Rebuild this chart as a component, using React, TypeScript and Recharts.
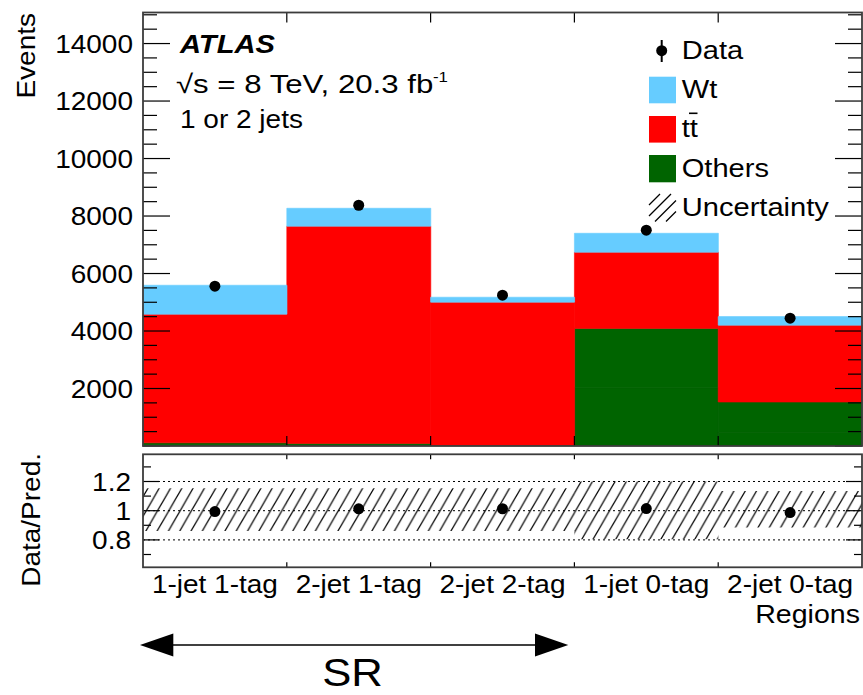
import React from 'react';
import { ComposedChart, Bar, Line, XAxis, YAxis, ReferenceLine } from 'recharts';

// ---- data ----
const regions = ['1-jet 1-tag', '2-jet 1-tag', '2-jet 2-tag', '1-jet 0-tag', '2-jet 0-tag'];
const othersLow = [60, 50, 10, 2030, 470];
const othersHigh = [50, 40, 10, 2060, 1060];
const ttbar = [4474, 7555, 4983, 2650, 2672];
const wt = [1009, 625, 173, 660, 300];
const dataEvents = [5560, 8375, 5245, 7506, 4445];
const uncUp = [1.153, 1.153, 1.153, 1.2, 1.135];
const uncDown = [0.861, 0.861, 0.861, 0.805, 0.885];

const mainTicks = Array.from({ length: 31 }, (_, i) => i * 500);
const ratioTicks = [0.7, 0.8, 0.9, 1.0, 1.1, 1.2, 1.3];

// ---- layout ----
const W = 863;
const H = 695;
const PL = 143;
const PR = 862;
const MT = 12.5;
const MB = 446;
const RT = 454.3;
const RB = 567.3;
const BW = (PR - PL) / regions.length;
const SX = 1.12; // ROOT helvetica runs wider than Liberation Sans
const FONT = '"Liberation Sans", Arial, Helvetica, sans-serif';

const rows = regions.map((r, i) => {
  const total = othersLow[i] + othersHigh[i] + ttbar[i] + wt[i];
  return {
    region: r,
    othersLow: othersLow[i],
    othersHigh: othersHigh[i],
    ttbar: ttbar[i],
    wt: wt[i],
    data: dataEvents[i],
    ratio: dataEvents[i] / total,
    lo: uncDown[i],
    hi: uncUp[i],
  };
});

function SText({ x, y, size = 25, anchor = 'start', rotate = 0, weight = 'normal', italic = false, sx = SX, children }: any) {
  return (
    <g transform={`translate(${x},${y}) rotate(${rotate}) scale(${sx},1)`}>
      <text x={0} y={0} fontSize={size} fontFamily={FONT} textAnchor={anchor}
        fontWeight={weight} fontStyle={italic ? 'italic' : 'normal'} fill="#000">
        {children}
      </text>
    </g>
  );
}

const MainYTick = (props: any) => {
  const { y, payload } = props;
  const v = payload.value;
  const major = v % 2000 === 0;
  const len = major ? 27 : 14;
  return (
    <g>
      <line x1={PL} x2={PL + len} y1={y} y2={y} stroke="#000" strokeWidth={1.2} />
      <line x1={PR} x2={PR - len} y1={y} y2={y} stroke="#000" strokeWidth={1.2} />
      {major && v > 0 && <SText x={133} y={y + 9} anchor="end">{v}</SText>}
    </g>
  );
};

const MainXTick = (props: any) => {
  const { x, index } = props;
  if (index >= regions.length - 1) return <g />;
  const bx = x + BW / 2;
  return (
    <g>
      <line x1={bx} x2={bx} y1={MB} y2={MB - 10} stroke="#000" strokeWidth={1.2} />
      <line x1={bx} x2={bx} y1={MT} y2={MT + 10} stroke="#000" strokeWidth={1.2} />
    </g>
  );
};

const RatioYTick = (props: any) => {
  const { y, payload } = props;
  const v = payload.value;
  const major = Math.round(v * 10) % 2 === 0;
  const len = major ? 16 : 8;
  const label = Math.abs(v - 1) < 1e-6 ? '1' : String(v);
  return (
    <g>
      <line x1={PL} x2={PL + len} y1={y} y2={y} stroke="#000" strokeWidth={1.2} />
      <line x1={PR} x2={PR - len} y1={y} y2={y} stroke="#000" strokeWidth={1.2} />
      {major && <SText x={131} y={y + 9.5} anchor="end">{label}</SText>}
    </g>
  );
};

const RatioXTick = (props: any) => {
  const { x, index, payload } = props;
  const bx = x + BW / 2;
  return (
    <g>
      <SText x={x} y={593} anchor="middle">{payload.value}</SText>
      {index < regions.length - 1 && (
        <>
          <line x1={bx} x2={bx} y1={RB} y2={RB - 5} stroke="#000" strokeWidth={1.2} />
          <line x1={bx} x2={bx} y1={RT} y2={RT + 5} stroke="#000" strokeWidth={1.2} />
        </>
      )}
    </g>
  );
};

const dot = { r: 5.5, fill: '#000', stroke: '#000', strokeWidth: 0 };

export default function App() {
  const box = { position: 'absolute' as const, left: 0, top: 0 };
  return (
    <div style={{ position: 'absolute', left: 0, top: 0, width: W, height: H, background: '#fff' }}>
      <div style={box}>
        <ComposedChart width={W} height={H} data={rows} barCategoryGap={0} barGap={0}
          margin={{ top: MT, right: W - PR, bottom: H - MB - 1, left: PL - 1 }}>
          <XAxis dataKey="region" height={1} interval={0} axisLine={false} tickLine={false} tick={MainXTick} />
          <YAxis width={1} domain={[0, 15080]} ticks={mainTicks} interval={0} allowDataOverflow
            axisLine={false} tickLine={false} tick={MainYTick} />
          <Bar dataKey="othersLow" stackId="s" fill="#006400" stroke="#0c560c" strokeWidth={0.8} isAnimationActive={false} />
          <Bar dataKey="othersHigh" stackId="s" fill="#006400" stroke="#006400" strokeWidth={0.6} isAnimationActive={false} />
          <Bar dataKey="ttbar" stackId="s" fill="#ff0000" stroke="#ff0000" strokeWidth={0.6} isAnimationActive={false} />
          <Bar dataKey="wt" stackId="s" fill="#66ccff" stroke="#66ccff" strokeWidth={0.6} isAnimationActive={false} />
          <Line dataKey="data" stroke="none" dot={dot} activeDot={false} isAnimationActive={false} />
        </ComposedChart>
      </div>
      <div style={box}>
        <ComposedChart width={W} height={H} data={rows} barCategoryGap={0} barGap={0}
          margin={{ top: RT, right: W - PR, bottom: H - RB - 1, left: PL - 1 }}>
          <XAxis dataKey="region" height={1} interval={0} axisLine={false} tickLine={false} tick={RatioXTick} />
          <YAxis width={1} domain={[0.6123, 1.3863]} ticks={ratioTicks} interval={0} allowDataOverflow
            axisLine={false} tickLine={false} tick={RatioYTick} />
          <Bar dataKey={(d: any) => [d.lo, d.hi]} fill="url(#hatch)" isAnimationActive={false} />
          <ReferenceLine y={1.2} stroke="#000" strokeDasharray="2 3" />
          <ReferenceLine y={1} stroke="#000" strokeDasharray="2 3" />
          <ReferenceLine y={0.8} stroke="#000" strokeDasharray="2 3" />
          <Line dataKey="ratio" stroke="none" dot={dot} activeDot={false} isAnimationActive={false} />
        </ComposedChart>
      </div>
      <svg width={W} height={H} style={{ ...box, pointerEvents: 'none' }}>
        <defs>
          <pattern id="hatch" patternUnits="userSpaceOnUse" width={11.3} height={19.6}>
            <path d="M0,19.6 L11.3,0 M-2,3.46 L2,-3.46 M9.3,23.06 L13.3,16.14" stroke="#000" strokeWidth={1.2} />
          </pattern>
        </defs>
        {/* frames */}
        <rect x={PL} y={MT} width={PR - PL} height={MB - MT} fill="none" stroke="#3c3c3c" strokeWidth={1.8} />
        <rect x={PL} y={RT} width={PR - PL} height={RB - RT} fill="none" stroke="#3c3c3c" strokeWidth={1.8} />

        {/* axis titles */}
        <SText x={35} y={13} rotate={-90} anchor="end">Events</SText>
        <SText x={40} y={453} rotate={-90} anchor="end">Data/Pred.</SText>
        <SText x={860} y={623} anchor="end" size={25.5}>Regions</SText>

        {/* labels */}
        <SText x={180} y={53} size={26} weight="bold" italic>ATLAS</SText>
        <SText x={176} y={93} size={26} sx={1.2}>√s = 8 TeV, 20.3 fb</SText>
        <SText x={433} y={82} size={15}>-1</SText>
        <SText x={180} y={127.5} size={25}>1 or 2 jets</SText>

        {/* legend */}
        <line x1={661.7} x2={661.7} y1={40} y2={62} stroke="#000" strokeWidth={2} />
        <circle cx={661.7} cy={50.7} r={5.5} fill="#000" />
        <SText x={681.7} y={59.3} size={26}>Data</SText>
        <rect x={649} y={76.7} width={27} height={26.6} fill="#66ccff" />
        <SText x={681.7} y={98.3} size={26}>Wt</SText>
        <rect x={649} y={116} width={27} height={26.6} fill="#ff0000" />
        <SText x={681.7} y={137.3} size={26}>tt</SText>
        <line x1={689} x2={697.5} y1={113.3} y2={113.3} stroke="#000" strokeWidth={1.6} />
        <rect x={649} y={155} width={27} height={27.3} fill="#006400" />
        <SText x={681.7} y={176.7} size={26}>Others</SText>
        <g stroke="#000" strokeWidth={1.3}>
          <line x1={649} y1={205} x2={660} y2={194} />
          <line x1={649} y1={216} x2={671} y2={194} />
          <line x1={655} y1={221.5} x2={676} y2={200.5} />
          <line x1={666} y1={221.5} x2={676} y2={211.5} />
        </g>
        <SText x={681.7} y={215.7} size={26}>Uncertainty</SText>

        {/* SR arrow */}
        <line x1={170} x2={538} y1={645} y2={645} stroke="#000" strokeWidth={1.5} />
        <polygon points="140,645 173.3,633.5 173.3,656.5" fill="#000" />
        <polygon points="568.3,645 535,633.5 535,656.5" fill="#000" />
        <SText x={352.5} y={686} size={39} anchor="middle">SR</SText>
      </svg>
    </div>
  );
}
